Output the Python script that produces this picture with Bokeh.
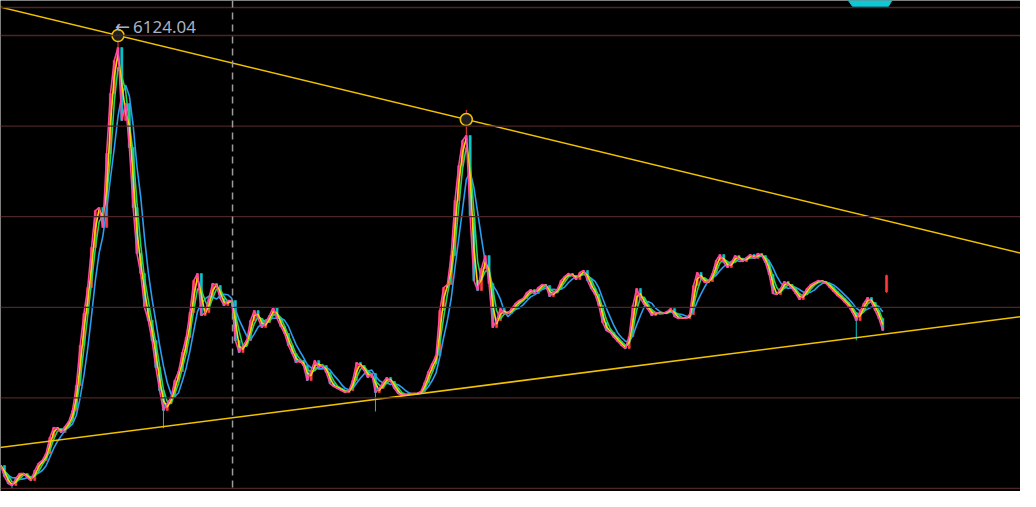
import numpy as np
from bokeh.plotting import figure
from bokeh.models import Range1d, Span, ColumnDataSource
from bokeh.embed import file_html
from bokeh.resources import INLINE
from bokeh.core.properties import value

# ---- data (monthly closes, index 0 = first bar) ----
close = [
    1254, 1132, 1055, 1033, 1110, 1165, 1165, 1121, 1088, 1198,
    1276, 1309, 1386, 1563, 1673, 1662, 1618, 1684, 1739, 1861,
    2137, 2578, 2931, 3218, 3660, 4068, 4101, 3881, 4697, 5360,
    5724, 5867, 5062, 5249, 4764, 4101, 3594, 3373, 2998, 2854,
    2633, 2335, 2081, 1861, 1938, 2004, 2192, 2291, 2501, 2666,
    2942, 3295, 3373, 2909, 2942, 3097, 3262, 3240, 3097, 3019,
    3075, 3075, 2633, 2501, 2578, 2633, 2854, 2964, 2876, 2777,
    2832, 2909, 2998, 2876, 2788, 2710, 2578, 2490, 2390, 2412,
    2357, 2192, 2302, 2412, 2335, 2357, 2280, 2158, 2125, 2103,
    2081, 2059, 2081, 2192, 2390, 2357, 2302, 2225, 2269, 2059,
    2103, 2169, 2225, 2181, 2103, 2048, 2026, 2037, 2048, 2048,
    2048, 2070, 2169, 2291, 2379, 2467, 2964, 3218, 3251, 3571,
    4178, 4565, 4841, 4896, 4013, 3295, 3185, 3428, 3571, 3262,
    2777, 2854, 2986, 2931, 2931, 2986, 3042, 3075, 3097, 3163,
    3196, 3152, 3218, 3251, 3240, 3119, 3163, 3196, 3295, 3340,
    3373, 3351, 3306, 3384, 3406, 3295, 3207, 3141, 3019, 2832,
    2744, 2721, 2666, 2622, 2578, 2545, 2677, 3019, 3207, 3097,
    3030, 2975, 2909, 2942, 2931, 2931, 2953, 2986, 2898, 2876,
    2887, 2876, 2920, 3240, 3384, 3317, 3273, 3284, 3373, 3516,
    3582, 3494, 3439, 3494, 3571, 3538, 3505, 3549, 3582, 3538,
    3594, 3571, 3494, 3362, 3152, 3141, 3207, 3284, 3251, 3207,
    3152, 3086, 3141, 3207, 3251, 3273, 3295, 3284, 3262, 3218,
    3174, 3130, 3097, 3053, 3008, 2942, 2854, 2953, 3042, 3108,
    3053, 2964, 2876, 2744,
]
# extreme wicks (bar index, price)
extreme_idx = [3, 31, 43, 99, 123, 226]
extreme_val = [998.23, 6124.04, 1664.93, 1849.65, 5178.19, 2635.09]
# last, separated bar: open, high, low, close
last_bar = [3170, 3360, 3160, 3350]

grid_levels = [1000, 2000, 3000, 4000, 5000, 6000]
frame_top = 6309
upper_anchor_idx = [31, 123]
upper_anchor_val = [6000, 5073]
lower_anchor_idx = [43, 226]
lower_anchor_val = [1683, 2664]
marker_idx = 61.25
peak_arrow = "\u2190"
peak_text = "6124.04"
ma_periods = [5, 3, 2, 1]
ma_colors = ["#2a9df0", "#22d462", "#ffd400", "#ff47a6"]
# small cyan tab at the top edge (index, price corners)
tab_x = [223.7, 235.6, 234.5, 225.0]
tab_y = [6400, 6400, 6322, 6322]

UP = "#ff3c3c"
DOWN = "#0cc4cc"

# ---- build bars ----
n = len(close)
idx = np.arange(n + 1, dtype=float)
c = np.array(close + [last_bar[3]], dtype=float)
o = np.concatenate([[close[0]], np.array(close[:-1], dtype=float), [last_bar[0]]])
hi = np.maximum(o, c)
lo = np.minimum(o, c)
hi[-1] = last_bar[1]
lo[-1] = last_bar[2]
for k, v in zip(extreme_idx, extreme_val):
    hi[k] = max(hi[k], v)
    lo[k] = min(lo[k], v)
col = [UP if cc >= oo else DOWN for oo, cc in zip(o, c)]
bars = ColumnDataSource(dict(x=idx, top=np.maximum(o, c), bottom=np.minimum(o, c),
                             hi=hi, lo=lo, color=col))

X0, X1 = -0.04, 269.38
Y0, Y1 = 966.6, 6386.3

p = figure(width=1020, height=491, output_backend="svg", toolbar_location=None,
           x_range=Range1d(X0, X1), y_range=Range1d(Y0, Y1),
           x_axis_location=None, y_axis_location=None,
           background_fill_color="#000000", border_fill_color="#000000",
           min_border=0, outline_line_color=None)
p.xgrid.visible = False
p.ygrid.visible = False

for lv in grid_levels + [frame_top]:
    p.add_layout(Span(location=lv, dimension="width", line_color="#4c2525", line_width=1.3))

p.add_layout(Span(location=marker_idx, dimension="height", line_color="#9c9c9c",
                  line_width=1.5, line_dash="7 5"))

p.patch(tab_x, tab_y, fill_color="#0cc8d6", line_color="#0cc8d6")

# candles
p.segment(x0="x", y0="lo", x1="x", y1="hi", color="color", line_width=1, source=bars)
p.vbar(x="x", width=0.6, top="top", bottom="bottom", fill_color="color",
       line_color="color", line_width=0.5, source=bars)

# moving averages over the main series
cs = np.array(close, dtype=float)
for per, colr in zip(ma_periods, ma_colors):
    ma = np.array([cs[max(0, i - per + 1):i + 1].mean() for i in range(n)])
    p.line(np.arange(n), ma, line_color=colr, line_width=1.6)

# trend lines through anchors, extended across the frame
def ext(ix, iv):
    s = (iv[1] - iv[0]) / (ix[1] - ix[0])
    return [X0 - 1, X1 + 1], [iv[0] + s * (X0 - 1 - ix[0]), iv[0] + s * (X1 + 1 - ix[0])]

for ax, av in [(upper_anchor_idx, upper_anchor_val), (lower_anchor_idx, lower_anchor_val)]:
    xs, ys = ext(ax, av)
    p.line(xs, ys, line_color="#f2c200", line_width=1.6)

p.scatter(upper_anchor_idx, upper_anchor_val, size=12, fill_color="#1e1e1e",
          line_color="#f2c200", line_width=1.6)

p.text(x=[extreme_idx[1]], y=[extreme_val[1]], text=[peak_arrow],
       text_font=value("DejaVu Sans"), text_font_size="18px", text_color="#a9b2c6",
       text_align="left", text_baseline="middle", x_offset=-3, y_offset=2)
p.text(x=[extreme_idx[1]], y=[extreme_val[1]], text=[peak_text],
       text_font=value("Noto Sans"), text_font_size="17px", text_color="#a9b2c6",
       text_align="left", text_baseline="middle", x_offset=15, y_offset=3)

open("out.html", "w").write(file_html(p, INLINE))
